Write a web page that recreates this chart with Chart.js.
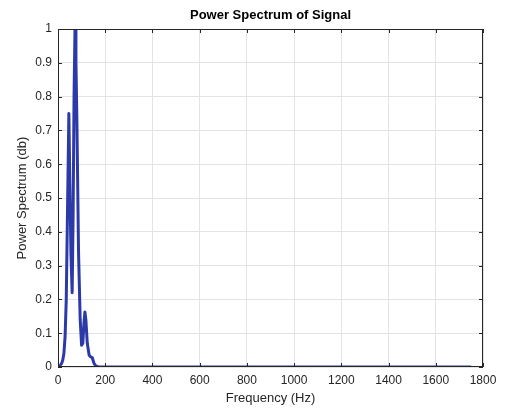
<!DOCTYPE html>
<html>
<head>
<meta charset="utf-8">
<script src="https://cdn.jsdelivr.net/npm/chart.js@4"></script>
<style>
  html, body { margin: 0; padding: 0; background: #fff; }
  #wrap { width: 505px; height: 411px; }
</style>
</head>
<body>
<div id="wrap"><canvas id="spectrumChart" width="505" height="411"></canvas></div>
<script>
// frequency (Hz) and normalised power
const freqs = [0, 8, 15, 20, 25, 30, 35, 40, 46, 50, 55, 60, 64, 68, 72, 76, 80, 87, 94, 100, 105, 110, 114, 118, 124, 132, 138, 145, 152, 160, 170, 200, 400, 800, 1200, 1600, 1750];
const power = [0.002, 0.004, 0.01, 0.02, 0.04, 0.09, 0.2, 0.45, 0.75, 0.55, 0.33, 0.22, 0.45, 0.8, 1.0, 0.9, 0.73, 0.34, 0.14, 0.064, 0.07, 0.13, 0.163, 0.14, 0.07, 0.035, 0.03, 0.028, 0.012, 0.003, 0.001, 0, 0, 0, 0, 0, 0];
const xTicks = [0, 200, 400, 600, 800, 1000, 1200, 1400, 1600, 1800];

const chartTitle = 'Power Spectrum of Signal';
const textColor = '#262626';
const fontFamily = '"Liberation Sans", Arial, sans-serif';

// MATLAB style box, inward ticks and title centred over the axes
const boxPlugin = {
    id: 'boxPlugin',
    afterDraw(chart) {
        const ctx = chart.ctx;
        const a = chart.chartArea;
        const xs = chart.scales.x, ys = chart.scales.y;
        ctx.save();
        ctx.strokeStyle = textColor;
        ctx.lineWidth = 1;
        ctx.strokeRect(a.left + 0.5, a.top + 0.5, a.right - a.left - 1, a.bottom - a.top - 1);
        ctx.beginPath();
        xs.ticks.forEach(t => {
            const px = Math.round(xs.getPixelForValue(t.value)) + 0.5;
            ctx.moveTo(px, a.bottom); ctx.lineTo(px, a.bottom - 4);
            ctx.moveTo(px, a.top); ctx.lineTo(px, a.top + 4);
        });
        ys.ticks.forEach(t => {
            const py = Math.round(ys.getPixelForValue(t.value)) + 0.5;
            ctx.moveTo(a.left, py); ctx.lineTo(a.left + 4, py);
            ctx.moveTo(a.right, py); ctx.lineTo(a.right - 4, py);
        });
        ctx.stroke();
        ctx.fillStyle = '#000';
        ctx.font = 'bold 13px ' + fontFamily;
        ctx.textAlign = 'center';
        ctx.textBaseline = 'alphabetic';
        ctx.fillText(chartTitle, (a.left + a.right) / 2, a.top - 10);
        ctx.restore();
    }
};

function createSpectrumChart() {
    var ctx = document.getElementById('spectrumChart').getContext('2d');
    new Chart(ctx, {
        type: 'line',
        data: {
            datasets: [{
                data: freqs.map((f, i) => ({ x: f, y: power[i] })),
                borderColor: '#2b3aa8',
                borderWidth: 3,
                borderJoinStyle: 'round',
                pointRadius: 0,
                tension: 0,
                fill: false
            }]
        },
        options: {
            responsive: false,
            animation: false,
            layout: { padding: { top: 29, right: 22, left: 0, bottom: 0 } },
            plugins: {
                legend: { display: false },
                tooltip: { enabled: false }
            },
            scales: {
                x: {
                    type: 'linear',
                    min: 0,
                    max: 1800,
                    afterBuildTicks: axis => { axis.ticks = xTicks.map(v => ({ value: v })); },
                    grid: { color: '#e3e3e3', drawTicks: false },
                    border: { display: false },
                    ticks: {
                        color: textColor,
                        padding: 6,
                        maxRotation: 0,
                        font: { size: 12, family: fontFamily },
                        callback: v => String(v)
                    },
                    title: {
                        display: true,
                        text: 'Frequency (Hz)',
                        color: textColor,
                        padding: { top: 0, bottom: 5 },
                        font: { size: 13, family: fontFamily }
                    },
                    afterFit: s => { s.height = 44; }
                },
                y: {
                    min: 0,
                    max: 1,
                    ticks: {
                        stepSize: 0.1,
                        color: textColor,
                        padding: 6,
                        font: { size: 12, family: fontFamily },
                        callback: v => String(Math.round(v * 10) / 10)
                    },
                    grid: { color: '#e3e3e3', drawTicks: false },
                    border: { display: false },
                    title: {
                        display: true,
                        text: 'Power Spectrum (db)',
                        color: textColor,
                        padding: { top: 15, bottom: 4 },
                        font: { size: 13, family: fontFamily }
                    },
                    afterFit: s => { s.width = 58; }
                }
            }
        },
        plugins: [boxPlugin]
    });
}

window.onload = function() {
    createSpectrumChart();
};
</script>
</body>
</html>
